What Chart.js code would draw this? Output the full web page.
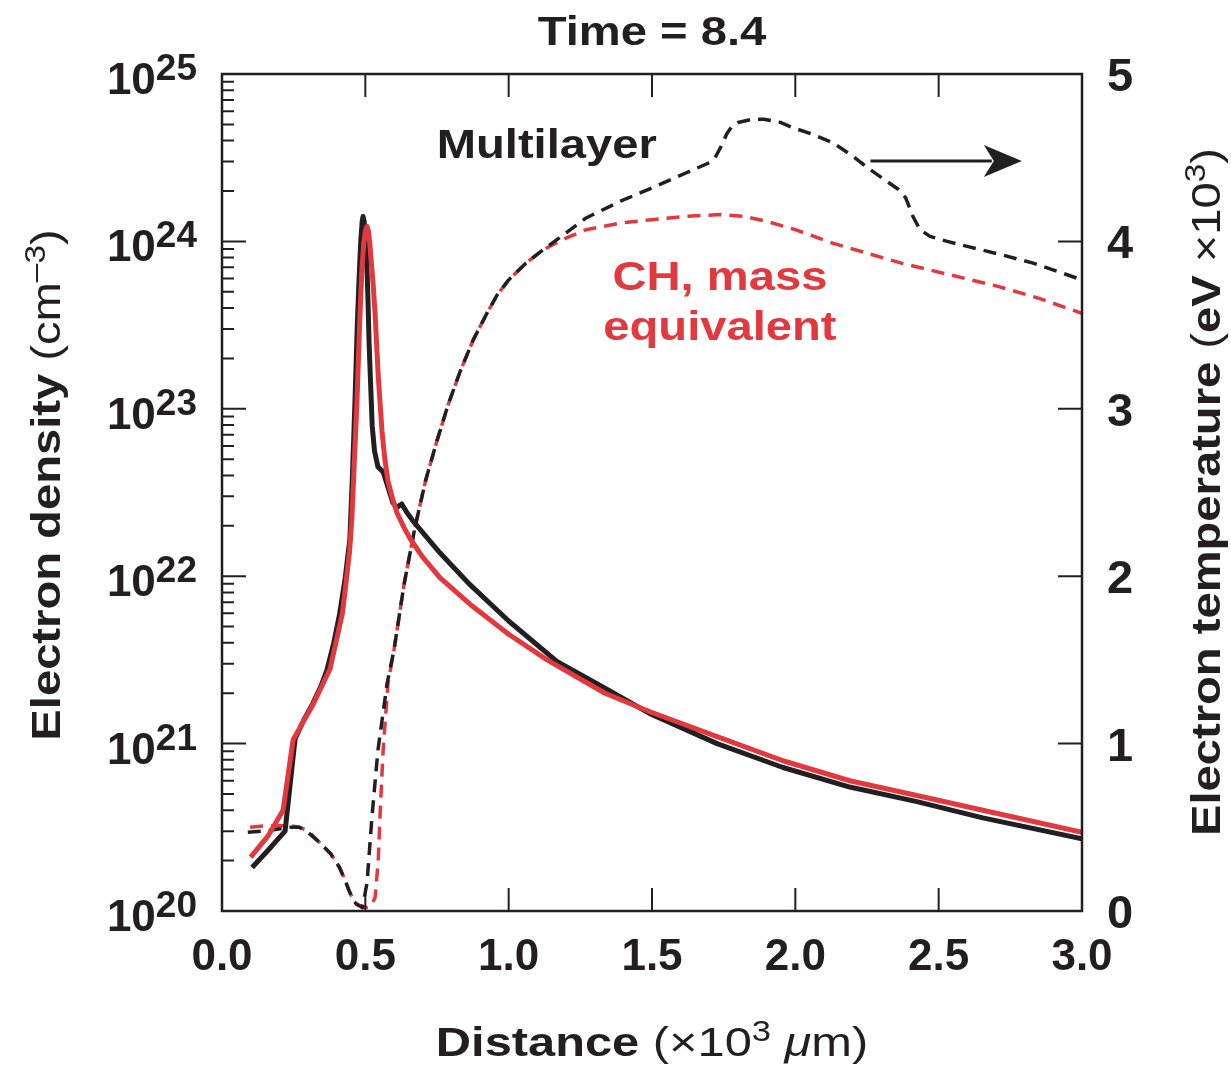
<!DOCTYPE html>
<html>
<head>
<meta charset="utf-8">
<script src="https://cdn.jsdelivr.net/npm/chart.js@4.4.0/dist/chart.umd.min.js"></script>
<style>
  html, body { margin: 0; padding: 0; background: #fff; }
  #wrap { width: 1231px; height: 1066px; }
</style>
</head>
<body>
<div id="wrap"><canvas id="myChart"></canvas></div>
<script>
// distance in units of 10^3 um, density in cm^-3, temperature in 10^3 eV
const distMultiDen = [0.105, 0.16, 0.22, 0.255, 0.285, 0.317, 0.345, 0.366, 0.39, 0.41, 0.43, 0.446, 0.455, 0.464, 0.472, 0.478, 0.484, 0.489, 0.492, 0.496, 0.500, 0.503, 0.507, 0.510, 0.513, 0.518, 0.524, 0.532, 0.544, 0.562, 0.596, 0.609, 0.627, 0.645, 0.666, 0.76, 0.865, 1.0, 1.168, 1.336, 1.493, 1.727, 1.957, 2.19, 2.424, 2.654, 3.0];
const denMulti = [1.82e20, 2.3e20, 3.0e20, 1.07e21, 1.38e21, 1.74e21, 2.2e21, 2.75e21, 4.0e21, 5.9e21, 9.8e21, 1.66e22, 4.0e22, 1.12e23, 3.2e23, 5.9e23, 1.0e24, 1.32e24, 1.41e24, 1.32e24, 1.07e24, 8.9e23, 6.0e23, 4.0e23, 2.5e23, 1.48e23, 7.9e22, 5.6e22, 4.5e22, 4.2e22, 2.75e22, 2.57e22, 2.7e22, 2.4e22, 2.14e22, 1.38e22, 8.9e21, 5.4e21, 3.1e21, 2.14e21, 1.51e21, 1.0e21, 7.2e20, 5.5e20, 4.5e20, 3.6e20, 2.7e20];

const distChDen = [0.10, 0.16, 0.213, 0.248, 0.28, 0.317, 0.35, 0.377, 0.40, 0.42, 0.43, 0.445, 0.453, 0.462, 0.471, 0.48, 0.488, 0.495, 0.501, 0.506, 0.511, 0.516, 0.520, 0.527, 0.534, 0.545, 0.558, 0.568, 0.579, 0.595, 0.61, 0.635, 0.656, 0.70, 0.76, 0.865, 1.0, 1.134, 1.336, 1.493, 1.727, 1.957, 2.19, 2.424, 2.654, 3.0];
const denCh = [2.1e20, 2.8e20, 4.0e20, 1.05e21, 1.32e21, 1.7e21, 2.24e21, 2.8e21, 4.2e21, 6.0e21, 8.3e21, 1.41e22, 2.2e22, 5.0e22, 1.12e23, 3.2e23, 6.8e23, 1.0e24, 1.17e24, 1.23e24, 1.15e24, 9.5e23, 7.8e23, 5.6e23, 3.7e23, 1.58e23, 7.4e22, 5.0e22, 3.7e22, 2.9e22, 2.4e22, 1.95e22, 1.68e22, 1.3e22, 9.8e21, 6.8e21, 4.5e21, 3.16e21, 2.0e21, 1.55e21, 1.1e21, 7.9e20, 6.0e20, 4.9e20, 4.0e20, 2.95e20];

const distMultiTemp = [0.09, 0.16, 0.237, 0.27, 0.30, 0.34, 0.38, 0.41, 0.43, 0.446, 0.46, 0.47, 0.49, 0.506, 0.523, 0.544, 0.576, 0.60, 0.635, 0.673, 0.71, 0.75, 0.79, 0.83, 0.876, 0.924, 0.96, 1.0, 1.06, 1.12, 1.2, 1.27, 1.39, 1.50, 1.62, 1.70, 1.72, 1.745, 1.76, 1.78, 1.80, 1.85, 1.89, 1.95, 1.99, 2.06, 2.13, 2.20, 2.26, 2.31, 2.36, 2.385, 2.41, 2.435, 2.47, 2.53, 2.60, 2.72, 2.83, 3.0];
const tempMulti = [0.47, 0.48, 0.50, 0.50, 0.47, 0.41, 0.34, 0.26, 0.18, 0.11, 0.06, 0.04, 0.02, 0.17, 0.56, 0.96, 1.36, 1.56, 1.95, 2.29, 2.57, 2.81, 3.03, 3.22, 3.41, 3.57, 3.68, 3.77, 3.87, 3.95, 4.05, 4.14, 4.24, 4.32, 4.41, 4.47, 4.50, 4.58, 4.64, 4.69, 4.71, 4.73, 4.73, 4.71, 4.68, 4.64, 4.59, 4.51, 4.43, 4.37, 4.31, 4.26, 4.15, 4.07, 4.03, 4.00, 3.97, 3.92, 3.87, 3.77];

const distChTemp = [0.098, 0.16, 0.237, 0.27, 0.30, 0.34, 0.38, 0.41, 0.43, 0.446, 0.46, 0.47, 0.50, 0.52, 0.534, 0.545, 0.551, 0.562, 0.579, 0.60, 0.635, 0.673, 0.71, 0.75, 0.79, 0.83, 0.876, 0.924, 0.96, 1.0, 1.06, 1.12, 1.2, 1.27, 1.39, 1.50, 1.62, 1.74, 1.82, 1.90, 2.0, 2.13, 2.25, 2.37, 2.54, 2.71, 2.85, 3.0];
const tempCh = [0.50, 0.51, 0.51, 0.50, 0.48, 0.41, 0.34, 0.26, 0.18, 0.11, 0.06, 0.04, 0.02, 0.03, 0.08, 0.30, 0.56, 0.96, 1.36, 1.56, 1.95, 2.29, 2.57, 2.81, 3.03, 3.22, 3.41, 3.57, 3.68, 3.77, 3.87, 3.95, 4.02, 4.07, 4.11, 4.13, 4.15, 4.16, 4.15, 4.12, 4.07, 3.99, 3.93, 3.87, 3.80, 3.73, 3.66, 3.57];

const xTicks = [0, 0.5, 1.0, 1.5, 2.0, 2.5, 3.0];
const densityDecades = [20, 21, 22, 23, 24, 25];
const tempTicks = [0, 1, 2, 3, 4, 5];

const BLACK = '#231f20';
const RED = '#e2393f';
const FAM = '"Liberation Sans", Arial, Helvetica, sans-serif';
const fb = s => 'bold ' + s + 'px ' + FAM;
const fr = s => s + 'px ' + FAM;
const fi = s => 'italic ' + s + 'px ' + FAM;
const STRETCH = 1.15;

function pts(xs, ys) {
    return xs.map((x, i) => ({ x: x, y: ys[i] }));
}

// draws a row of differently styled text pieces
function drawRuns(ctx, runs, x, y, align, stretch) {
    ctx.save();
    ctx.translate(x, y);
    ctx.scale(stretch, 1);
    let total = 0;
    runs.forEach(r => { ctx.font = r.f; total += ctx.measureText(r.t).width; });
    let cx = align === 'center' ? -total / 2 : (align === 'right' ? -total : 0);
    ctx.textAlign = 'left';
    ctx.textBaseline = 'alphabetic';
    runs.forEach(r => {
        ctx.font = r.f;
        ctx.fillStyle = r.c || BLACK;
        ctx.fillText(r.t, cx, r.dy || 0);
        cx += ctx.measureText(r.t).width;
    });
    ctx.restore();
}

function drawRotated(ctx, runs, x, y, stretch) {
    ctx.save();
    ctx.translate(x, y);
    ctx.rotate(-Math.PI / 2);
    drawRuns(ctx, runs, 0, 0, 'center', stretch);
    ctx.restore();
}

const framePlugin = {
    id: 'frame',
    afterDraw(chart) {
        const { ctx, chartArea: a, scales } = chart;
        const xs = scales.x, yl = scales.y, yr = scales.y2;
        ctx.save();
        ctx.strokeStyle = BLACK;
        ctx.lineWidth = 2.5;
        ctx.strokeRect(a.left, a.top, a.right - a.left, a.bottom - a.top);

        // inward ticks
        ctx.lineWidth = 2;
        ctx.beginPath();
        xTicks.forEach(v => {
            const px = xs.getPixelForValue(v);
            ctx.moveTo(px, a.top); ctx.lineTo(px, a.top + 23);
            ctx.moveTo(px, a.bottom); ctx.lineTo(px, a.bottom - 23);
        });
        densityDecades.forEach(n => {
            const py = yl.getPixelForValue(Math.pow(10, n));
            ctx.moveTo(a.left, py); ctx.lineTo(a.left + 24, py);
            if (n < 25) {
                for (let m = 2; m <= 9; m++) {
                    const q = yl.getPixelForValue(m * Math.pow(10, n));
                    ctx.moveTo(a.left, q); ctx.lineTo(a.left + 12, q);
                }
            }
        });
        tempTicks.forEach(v => {
            const py = yr.getPixelForValue(v);
            ctx.moveTo(a.right, py); ctx.lineTo(a.right - 24, py);
        });
        ctx.stroke();

        // tick labels
        xTicks.forEach(v => {
            drawRuns(ctx, [{ t: v.toFixed(1), f: fb(44) }], xs.getPixelForValue(v), a.bottom + 59, 'center', 1);
        });
        densityDecades.forEach(n => {
            const py = yl.getPixelForValue(Math.pow(10, n));
            drawRuns(ctx, [{ t: '10', f: fb(44) }, { t: String(n), f: fb(37), dy: -14 }], a.left - 25, py + 20, 'right', 1);
        });
        tempTicks.forEach(v => {
            const py = yr.getPixelForValue(v);
            drawRuns(ctx, [{ t: String(v), f: fb(47) }], a.right + 25, py + 17, 'left', 1);
        });

        // titles
        const cxp = (a.left + a.right) / 2;
        drawRuns(ctx, [{ t: 'Time = 8.4', f: fb(41) }], cxp, 45, 'center', STRETCH);
        drawRuns(ctx, [
            { t: 'Distance ', f: fb(41) },
            { t: '(\u00d710', f: fr(41) },
            { t: '3', f: fr(29), dy: -15 },
            { t: ' ', f: fr(41) },
            { t: '\u03bc', f: fi(41) },
            { t: 'm)', f: fr(41) }
        ], cxp, 1056, 'center', 1.19);
        drawRotated(ctx, [
            { t: 'Electron density ', f: fb(41) },
            { t: '(cm', f: fr(41) },
            { t: '\u20133', f: fr(29), dy: -15 },
            { t: ')', f: fr(41) }
        ], 60, 485, STRETCH);
        drawRotated(ctx, [
            { t: 'Electron temperature ', f: fb(41) },
            { t: '(', f: fr(41) },
            { t: 'eV', f: fb(41) },
            { t: ' \u00d710', f: fr(41) },
            { t: '3', f: fr(29), dy: -15 },
            { t: ')', f: fr(41) }
        ], 1220, 492, STRETCH);

        // annotations placed in data coordinates
        drawRuns(ctx, [{ t: 'Multilayer', f: fb(41) }], xs.getPixelForValue(1.133), yr.getPixelForValue(4.5), 'center', STRETCH);
        drawRuns(ctx, [{ t: 'CH, mass', f: fb(41), c: RED }], xs.getPixelForValue(1.737), yr.getPixelForValue(3.71), 'center', STRETCH);
        drawRuns(ctx, [{ t: 'equivalent', f: fb(41), c: RED }], xs.getPixelForValue(1.737), yr.getPixelForValue(3.41), 'center', STRETCH);

        // arrow pointing to the temperature axis
        const ay = yr.getPixelForValue(4.48);
        const ax0 = xs.getPixelForValue(2.262), ax1 = xs.getPixelForValue(2.79);
        ctx.lineWidth = 3;
        ctx.beginPath();
        ctx.moveTo(ax0, ay); ctx.lineTo(ax1 - 30, ay);
        ctx.stroke();
        ctx.fillStyle = BLACK;
        ctx.beginPath();
        ctx.moveTo(ax1, ay);
        ctx.lineTo(ax1 - 38, ay - 16);
        ctx.lineTo(ax1 - 28, ay);
        ctx.lineTo(ax1 - 38, ay + 16);
        ctx.closePath();
        ctx.fill();
        ctx.restore();
    }
};

const ctx = document.getElementById('myChart').getContext('2d');
window.myChart = new Chart(ctx, {
    type: 'line',
    data: {
        datasets: [
            { data: pts(distChDen, denCh), yAxisID: 'y', borderColor: RED, borderWidth: 5 },
            { data: pts(distMultiDen, denMulti), yAxisID: 'y', borderColor: BLACK, borderWidth: 5 },
            { data: pts(distMultiTemp, tempMulti), yAxisID: 'y2', borderColor: BLACK, borderWidth: 3.5, borderDash: [13, 8] },
            { data: pts(distChTemp, tempCh), yAxisID: 'y2', borderColor: RED, borderWidth: 3.5, borderDash: [13, 8] }
        ]
    },
    options: {
        responsive: true,
        maintainAspectRatio: false,
        animation: false,
        layout: { padding: { left: 222, right: 149, top: 74, bottom: 155 } },
        plugins: { legend: { display: false }, tooltip: { enabled: false } },
        elements: {
            point: { radius: 0 },
            line: { tension: 0, fill: false, borderJoinStyle: 'round' }
        },
        scales: {
            x: { type: 'linear', min: 0, max: 3, display: false },
            y: { type: 'logarithmic', min: 1e20, max: 1e25, display: false },
            y2: { type: 'linear', position: 'right', min: 0, max: 5, display: false }
        }
    },
    plugins: [framePlugin]
});
</script>
</body>
</html>
